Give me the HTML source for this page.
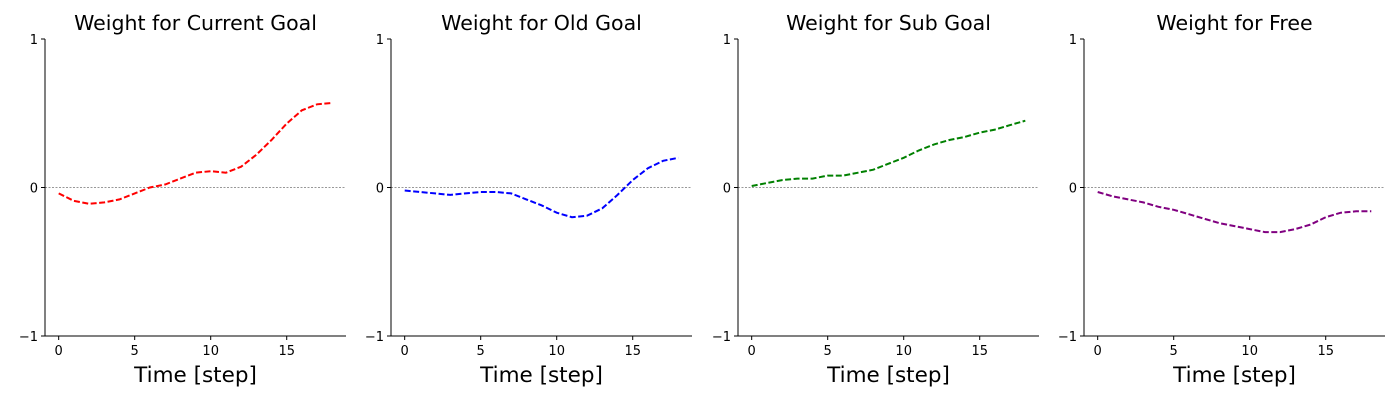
<!DOCTYPE html>
<html><head><meta charset="utf-8"><style>
body{margin:0;background:#fff;}
svg text{font-family:"DejaVu Sans","Liberation Sans",sans-serif;}
</style></head><body>
<svg id="chart" width="1400" height="400" xmlns="http://www.w3.org/2000/svg"></svg>
<script>
const steps = [0,1,2,3,4,5,6,7,8,9,10,11,12,13,14,15,16,17,18];
const currentGoal = [-0.04,-0.09,-0.11,-0.10,-0.08,-0.04,0.0,0.02,0.06,0.10,0.11,0.10,0.14,0.22,0.32,0.43,0.52,0.56,0.57];
const oldGoal = [-0.02,-0.03,-0.04,-0.05,-0.04,-0.03,-0.03,-0.04,-0.08,-0.12,-0.17,-0.20,-0.19,-0.14,-0.05,0.05,0.13,0.18,0.20];
const subGoal = [0.01,0.03,0.05,0.06,0.06,0.08,0.08,0.10,0.12,0.16,0.20,0.25,0.29,0.32,0.34,0.37,0.39,0.42,0.45];
const freeW = [-0.03,-0.06,-0.08,-0.10,-0.13,-0.15,-0.18,-0.21,-0.24,-0.26,-0.28,-0.30,-0.30,-0.28,-0.25,-0.20,-0.17,-0.16,-0.16];
const xTicks = [0,5,10,15];
const yTicks = [-1,0,1];
const yTickLabels = ["\u22121","0","1"];
const panels = [
 {title:"Weight for Current Goal", data:currentGoal, color:"#ff0000", left:45, name:"current-goal"},
 {title:"Weight for Old Goal", data:oldGoal, color:"#0000ff", left:391, name:"old-goal"},
 {title:"Weight for Sub Goal", data:subGoal, color:"#008000", left:738, name:"sub-goal"},
 {title:"Weight for Free", data:freeW, color:"#800080", left:1084, name:"free"}
];
const svg = document.getElementById('chart');
const NS = "http://www.w3.org/2000/svg";
function mk(tag, attrs, parent){const e=document.createElementNS(NS,tag);for(const k in attrs)e.setAttribute(k,attrs[k]);parent.appendChild(e);return e;}
const W=301, TOP=39, BOT=336, xmin=-0.9, xmax=18.9;
panels.forEach(p=>{
  const g = mk('g',{},svg);
  
  
  const xs = v => p.left + (v - xmin)/(xmax - xmin)*W;
  const ys = v => TOP + (1 - v)/2*(BOT-TOP);
  const t = mk('text',{x:p.left+W/2,y:30,'text-anchor':'middle','font-size':'20.5'},g);
  t.textContent = p.title;
  
  
  const zl = mk('line',{x1:p.left,x2:p.left+W,y1:ys(0),y2:ys(0),stroke:'#777','stroke-width':'0.8','stroke-dasharray':'2,1.5'},g);
  
  
  const ya = mk('line',{x1:p.left,x2:p.left,y1:TOP,y2:BOT,stroke:'#000','stroke-width':'1'},g);
  
  
  const xa = mk('line',{x1:p.left,x2:p.left+W,y1:BOT,y2:BOT,stroke:'#000','stroke-width':'1'},g);
  
  
  yTicks.forEach((v,i)=>{
    mk('line',{x1:p.left-4,x2:p.left,y1:ys(v),y2:ys(v),stroke:'#000'},g);
    const l = mk('text',{x:p.left-7,y:ys(v)+5,'text-anchor':'end','font-size':'13'},g);
    l.textContent = yTickLabels[i];
    
    
  });
  xTicks.forEach(v=>{
    mk('line',{x1:xs(v),x2:xs(v),y1:BOT,y2:BOT+4,stroke:'#000'},g);
    const l = mk('text',{x:xs(v),y:BOT+19,'text-anchor':'middle','font-size':'13'},g);
    l.textContent = v;
    
    
  });
  const xl = mk('text',{x:p.left+W/2,y:382,'text-anchor':'middle','font-size':'21.5'},g);
  xl.textContent = "Time [step]";
  
  
  const pts = p.data.map((v,i)=>xs(steps[i]).toFixed(1)+','+ys(v).toFixed(1)).join(' ');
  const line = mk('polyline',{points:pts,fill:'none',stroke:p.color,'stroke-width':'2','stroke-dasharray':'6,2.5'},g);
  
  
});
</script>
</body></html>
